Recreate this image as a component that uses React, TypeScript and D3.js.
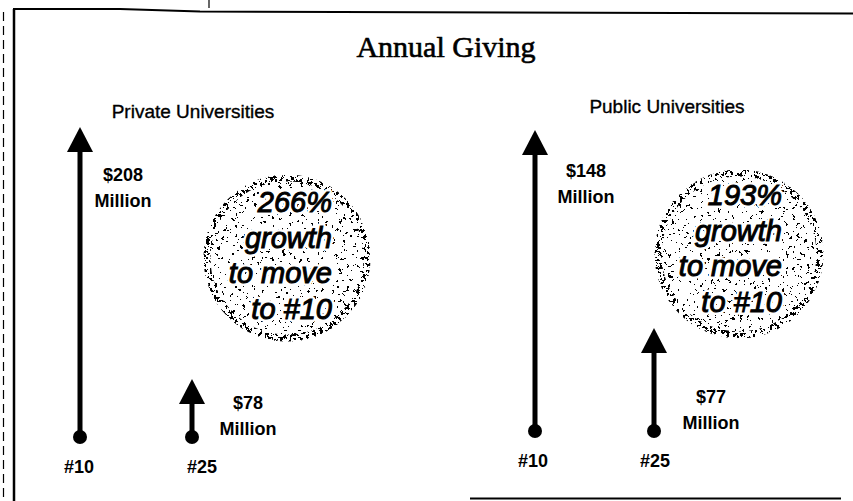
import React from 'react'
import * as d3 from 'd3'

// chart data
const title = 'Annual Giving'
const panels = ['Private Universities', 'Public Universities']
const ranks = ['#10', '#25']
const privateGiving = [208, 78]
const publicGiving = [148, 77]
const growthPct = [266, 193]
const growthLines = ['growth', 'to move', 'to #10']

const W = 853
const H = 501
const SANS = '"Liberation Sans", Arial, sans-serif'

// per-panel layout (arrows are illustrative, so each panel has its own scale floor)
const layout = [
  {
    xRange: [80, 192],
    base: 437,
    top: 127,
    floor: 48,
    labelDx: [43, 56],
    topLabelDy: 54,
    rankDx: [-1, 10],
    head: { x: 193, y: 118 },
    circle: { cx: 287, cy: 258, r: 83 },
    textEnd: 332,
    textY0: 212,
  },
  {
    xRange: [535, 654],
    base: 431,
    top: 130,
    floor: 40,
    labelDx: [51, 57],
    topLabelDy: 47,
    rankDx: [-2, 1],
    head: { x: 667, y: 113 },
    circle: { cx: 739, cy: 254, r: 84 },
    textEnd: 782,
    textY0: 205,
  },
]

const giving = [privateGiving, publicGiving]

const Arrow: React.FC<{ x: number; y0: number; y1: number }> = ({ x, y0, y1 }) => {
  const headH = 25
  const headW = 13
  return (
    <g>
      <line x1={x} x2={x} y1={y0} y2={y1 + headH - 2} stroke="#000" strokeWidth={5} />
      <path d={`M${x},${y1} L${x + headW},${y1 + headH} L${x - headW},${y1 + headH} Z`} fill="#000" />
      <circle cx={x} cy={y0} r={7} fill="#000" />
    </g>
  )
}

const Panel: React.FC<{ p: number }> = ({ p }) => {
  const L = layout[p]
  const values = giving[p]
  const x = d3.scalePoint<string>().domain(ranks).range(L.xRange as [number, number])
  const y = d3
    .scaleLinear()
    .domain([L.floor, d3.max(values) as number])
    .range([L.base, L.top])
  const { cx, cy, r } = L.circle
  const lines = [`${growthPct[p]}%`, ...growthLines]

  return (
    <g>
      <text
        x={L.head.x}
        y={L.head.y}
        textAnchor="middle"
        fontFamily={SANS}
        fontSize={19}
        stroke="#000"
        strokeWidth={0.35}
      >
        {panels[p]}
      </text>

      {ranks.map((rk, i) => {
        const ax = x(rk) as number
        const tip = y(values[i])
        const lx = ax + L.labelDx[i]
        const ly = i === 0 ? tip + L.topLabelDy : L.base - 28
        return (
          <g key={rk}>
            <Arrow x={ax} y0={L.base} y1={tip} />
            <text x={lx} y={ly} textAnchor="middle" fontFamily={SANS} fontSize={18} fontWeight="bold">
              ${values[i]}
            </text>
            <text x={lx} y={ly + 26} textAnchor="middle" fontFamily={SANS} fontSize={18} fontWeight="bold">
              Million
            </text>
            <text
              x={ax + L.rankDx[i]}
              y={L.base + 36}
              textAnchor="middle"
              fontFamily={SANS}
              fontSize={18}
              fontWeight="bold"
            >
              {rk}
            </text>
          </g>
        )
      })}

      {/* stippled badge */}
      <circle cx={cx} cy={cy} r={r} fill="#000" filter="url(#speckle)" />
      <circle cx={cx} cy={cy} r={r - 3} fill="none" stroke="#000" strokeWidth={7} filter="url(#speckleDense)" />
      {lines.map((t, i) => (
        <text
          key={'h' + i}
          x={L.textEnd}
          y={L.textY0 + i * 35.5}
          textAnchor="end"
          fontFamily={SANS}
          fontStyle="italic"
          fontSize={29}
          fill="#fff"
          stroke="#fff"
          strokeWidth={6}
          strokeLinejoin="round"
        >
          {t}
        </text>
      ))}
      {lines.map((t, i) => (
        <text
          key={'t' + i}
          x={L.textEnd}
          y={L.textY0 + i * 35.5}
          textAnchor="end"
          fontFamily={SANS}
          fontStyle="italic"
          fontSize={29}
          fill="#000"
          stroke="#000"
          strokeWidth={1}
        >
          {t}
        </text>
      ))}
    </g>
  )
}

export default function App() {
  return (
    <div style={{ position: 'absolute', left: 0, top: 0, width: W, height: H, overflow: 'hidden', background: '#fff' }}>
      <svg width={W} height={H} viewBox={`0 0 ${W} ${H}`}>
        <defs>
          <filter id="speckle" x="0" y="0" width="100%" height="100%">
            <feTurbulence type="fractalNoise" baseFrequency="0.28" numOctaves={3} seed={7} result="noise" />
            <feColorMatrix
              in="noise"
              type="matrix"
              values="0 0 0 0 0  0 0 0 0 0  0 0 0 0 0  2 0 0 0 -0.55"
              result="a"
            />
            <feComponentTransfer in="a" result="dots">
              <feFuncA type="discrete" tableValues="0 0 0 0 0 0 0 0 1 1" />
            </feComponentTransfer>
            <feComposite in="dots" in2="SourceGraphic" operator="in" />
          </filter>
          <filter id="speckleDense" x="-10%" y="-10%" width="120%" height="120%">
            <feTurbulence type="fractalNoise" baseFrequency="0.3" numOctaves={3} seed={3} result="noise" />
            <feColorMatrix
              in="noise"
              type="matrix"
              values="0 0 0 0 0  0 0 0 0 0  0 0 0 0 0  2 0 0 0 -0.5"
              result="a"
            />
            <feComponentTransfer in="a" result="dots">
              <feFuncA type="discrete" tableValues="0 0 0 0 0 0 1 1 1" />
            </feComponentTransfer>
            <feComposite in="dots" in2="SourceGraphic" operator="in" />
          </filter>
        </defs>

        {/* scanned frame */}
        <line x1={3.5} x2={3.5} y1={12} y2={H} stroke="#000" strokeWidth={1.2} strokeDasharray="9 5" />
        <line x1={14} x2={14} y1={9} y2={H} stroke="#000" strokeWidth={2.5} />
        <polyline points="13,9 120,9 200,11.5 853,13.5" fill="none" stroke="#000" strokeWidth={2} />
        <line x1={209} x2={209} y1={0} y2={8} stroke="#000" strokeWidth={1.2} />
        <line x1={470} x2={841} y1={498.5} y2={498.5} stroke="#000" strokeWidth={2} />

        <text
          x={446}
          y={57}
          textAnchor="middle"
          fontFamily='"Liberation Serif", serif'
          fontSize={30}
          stroke="#000"
          strokeWidth={0.6}
        >
          {title}
        </text>

        {panels.map((_, p) => (
          <Panel key={p} p={p} />
        ))}
      </svg>
    </div>
  )
}
